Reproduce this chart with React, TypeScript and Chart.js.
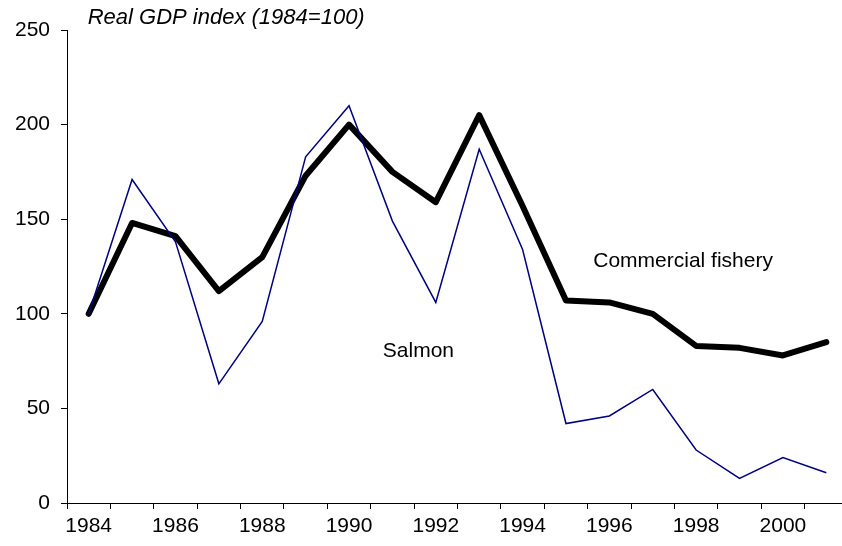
import React, { useEffect, useRef } from "react";
import { Chart, registerables } from "chart.js";

Chart.register(...registerables);

const years = [
  "1984", "1985", "1986", "1987", "1988", "1989", "1990", "1991", "1992",
  "1993", "1994", "1995", "1996", "1997", "1998", "1999", "2000", "2001",
];
const commercialFishery = [
  100, 148, 141, 112, 130, 173, 200, 175, 159, 205, 157, 107, 106, 100, 83, 82, 78, 85,
];
const salmon = [
  100, 171, 138, 63, 96, 183, 210, 149, 106, 187, 134, 42, 46, 60, 28, 13, 24, 16,
];
const yTicks = [0, 50, 100, 150, 200, 250];
const titleText = "Real GDP index (1984=100)";
const seriesLabels = [
  { text: "Commercial fishery", index: 13.7, value: 128 },
  { text: "Salmon", index: 7.6, value: 80 },
];

const FONT = "Liberation Sans, Arial, sans-serif";

const textPlugin = {
  id: "textPlugin",
  afterDatasetsDraw(chart: any) {
    const { ctx, chartArea, scales } = chart;
    const xs = scales.x;
    const ys = scales.y;
    ctx.save();
    ctx.fillStyle = "#000";
    ctx.font = `italic 22px ${FONT}`;
    ctx.textAlign = "left";
    ctx.textBaseline = "middle";
    ctx.fillText(titleText, xs.getPixelForValue(0) - 1, chartArea.top - 12);
    ctx.font = `21px ${FONT}`;
    ctx.textAlign = "center";
    for (const l of seriesLabels) {
      ctx.fillText(l.text, xs.getPixelForValue(l.index), ys.getPixelForValue(l.value));
    }
    ctx.restore();
  },
};

export default function App() {
  const ref = useRef<HTMLCanvasElement>(null);
  useEffect(() => {
    if (!ref.current) return;
    const chart = new Chart(ref.current, {
      type: "line",
      data: {
        labels: years,
        datasets: [
          {
            label: "Salmon",
            data: salmon,
            borderColor: "#000080",
            borderWidth: 1.5,
            pointRadius: 0,
            tension: 0,
          },
          {
            label: "Commercial fishery",
            data: commercialFishery,
            borderColor: "#000",
            borderWidth: 6,
            pointRadius: 0,
            tension: 0,
            borderJoinStyle: "round",
            borderCapStyle: "round",
          },
        ],
      },
      options: {
        responsive: false,
        animation: false,
        devicePixelRatio: 1,
        layout: { padding: { top: 30, left: 0, right: 0, bottom: 0 } },
        plugins: { legend: { display: false }, tooltip: { enabled: false }, title: { display: false } },
        scales: {
          x: {
            type: "category",
            offset: true,
            grid: {
              offset: true,
              drawOnChartArea: false,
              drawTicks: true,
              tickLength: 6,
              color: "#000",
            },
            border: { display: true, color: "#000", width: 1 },
            ticks: {
              autoSkip: false,
              maxRotation: 0,
              minRotation: 0,
              padding: 5,
              color: "#000",
              font: { family: FONT, size: 21 },
              callback: (_v: any, i: number) => (Number(years[i]) % 2 === 0 ? years[i] : ""),
            },
            afterFit: (s: any) => {
              s.height = 43;
            },
          },
          y: {
            min: 0,
            max: 250,
            afterBuildTicks: (s: any) => {
              s.ticks = yTicks.map((v) => ({ value: v }));
            },
            grid: {
              drawOnChartArea: false,
              drawTicks: true,
              tickLength: 6,
              color: "#000",
            },
            border: { display: true, color: "#000", width: 1 },
            ticks: {
              padding: 11,
              color: "#000",
              font: { family: FONT, size: 21 },
            },
            afterFit: (s: any) => {
              s.width = 67;
            },
          },
        },
      },
      plugins: [textPlugin],
    });
    return () => chart.destroy();
  }, []);
  return (
    <div style={{ position: "absolute", left: 0, top: 0, width: 842, height: 546, overflow: "hidden", background: "#fff" }}>
      <canvas ref={ref} width={848} height={546} style={{ display: "block" }} />
    </div>
  );
}
